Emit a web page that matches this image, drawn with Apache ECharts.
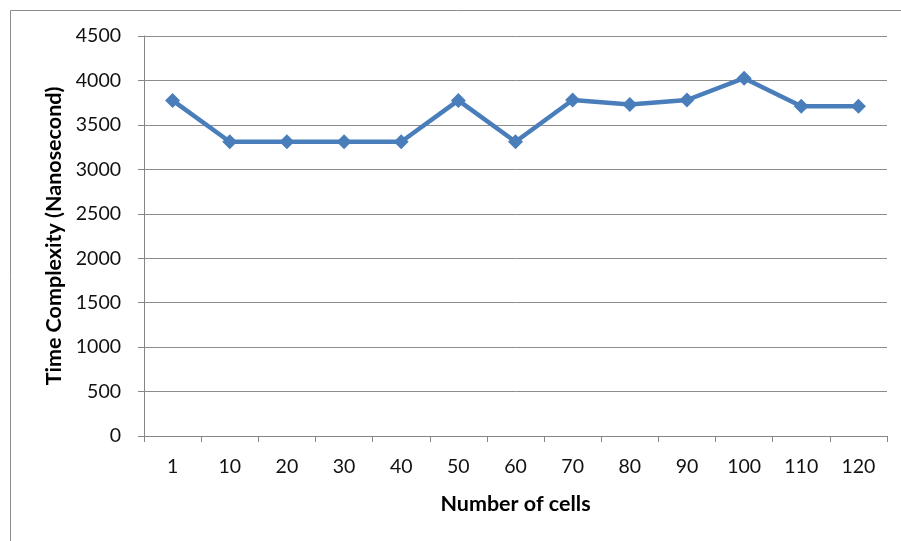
<!DOCTYPE html>
<html><head><meta charset="utf-8">
<script src="https://cdn.jsdelivr.net/npm/echarts@6/dist/echarts.min.js"></script>
<style>html,body{margin:0;padding:0;background:#fff}#c{width:901px;height:541px}</style>
</head><body><div id="c"></div>
<script>
const categories = ['1','10','20','30','40','50','60','70','80','90','100','110','120'];
const timeValues = [3775, 3310, 3310, 3310, 3310, 3775, 3310, 3780, 3730, 3780, 4025, 3710, 3710];
const yTicks = [0, 500, 1000, 1500, 2000, 2500, 3000, 3500, 4000, 4500];

const chart = echarts.init(document.getElementById('c'), null, {renderer: 'canvas'});
const font = 'Lato, "Open Sans", sans-serif';
chart.setOption({
  animation: false,
  backgroundColor: '#fff',
  graphic: [{
    type: 'rect', shape: {x: 10.5, y: 10.5, width: 900, height: 540},
    style: {fill: 'none', stroke: '#8c8c8c', lineWidth: 1}, silent: true
  }],
  grid: {left: 144, right: 14, top: 36, bottom: 105, containLabel: false},
  xAxis: {
    type: 'category', data: categories, boundaryGap: true,
    name: 'Number of cells', nameLocation: 'middle', nameGap: 57,
    nameTextStyle: {fontFamily: font, fontSize: 21.5, fontWeight: 'bold', color: '#000'},
    axisLine: {lineStyle: {color: '#868686', width: 1}},
    axisTick: {show: true, alignWithLabel: false, length: 6, lineStyle: {color: '#868686'}},
    axisLabel: {fontFamily: font, fontSize: 19.5, color: '#111', margin: 21, interval: 0},
    splitLine: {show: false}
  },
  yAxis: {
    type: 'value', min: yTicks[0], max: yTicks[yTicks.length - 1], interval: 500,
    name: 'Time Complexity (Nanosecond)', nameLocation: 'middle', nameGap: 78, nameRotate: 90,
    nameTextStyle: {fontFamily: font, fontSize: 21.5, fontWeight: 'bold', color: '#000'},
    axisLine: {show: true, lineStyle: {color: '#868686', width: 1}},
    axisTick: {show: true, inside: false, length: 6, lineStyle: {color: '#868686'}},
    axisLabel: {fontFamily: font, fontSize: 19.5, color: '#111', margin: 23, formatter: v => String(v)},
    splitLine: {show: true, lineStyle: {color: '#8c8c8c', width: 1}}
  },
  series: [{
    type: 'line', data: timeValues,
    symbol: 'diamond', symbolSize: 15,
    lineStyle: {color: '#4a7ebb', width: 4.5},
    itemStyle: {color: '#4a7ebb'}
  }]
});
</script></body></html>
